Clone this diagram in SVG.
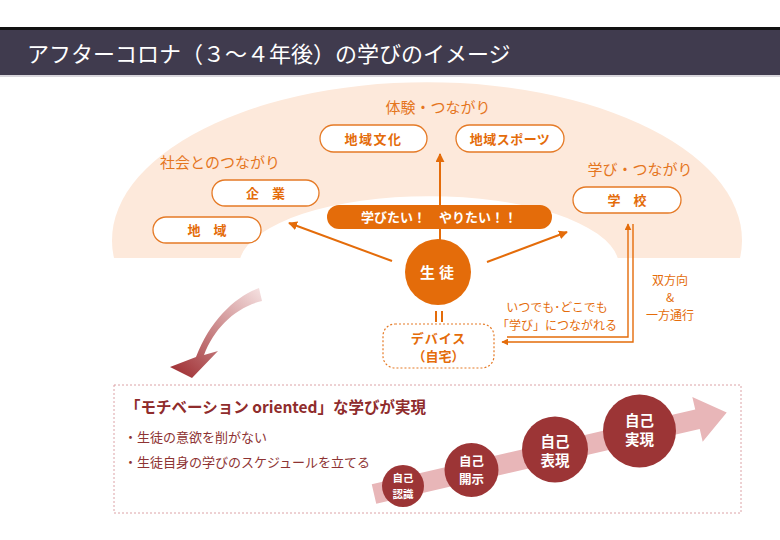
<svg xmlns="http://www.w3.org/2000/svg" width="780" height="540" viewBox="0 0 780 540">
<style>
.jp{font-family:"Noto Sans CJK JP","Noto Sans",sans-serif}
.lbl{font-size:15px;fill:#e5761e}
.pill rect{fill:#fff;stroke:#e57a26;stroke-width:1.3}
.pill text{font-size:13px;font-weight:bold;fill:#e46c0a;text-anchor:middle}
.or{fill:#e46c0a}
.con{stroke:#e46c0a;stroke-width:2;fill:none}
.dl{stroke:#e46c0a;stroke-width:1.4;fill:none}
.note{font-size:12px;fill:#e46c0a;text-anchor:middle}
.step circle{fill:#9c3536}
.step text{fill:#fff;font-weight:bold;text-anchor:middle}
.blt{font-size:13px;fill:#8e3333}
</style>
<defs>
<marker id="ah" viewBox="0 0 10 10" refX="9" refY="5" markerWidth="9" markerHeight="9" markerUnits="userSpaceOnUse" orient="auto">
<path d="M0,0 L10,5 L0,10 Z" fill="#e46c0a"/>
</marker>
<marker id="ahs" viewBox="0 0 10 10" refX="9" refY="5" markerWidth="7" markerHeight="7" markerUnits="userSpaceOnUse" orient="auto">
<path d="M0,0 L10,5 L0,10 Z" fill="#e46c0a"/>
</marker>
<linearGradient id="rg" x1="263" y1="290" x2="185" y2="378" gradientUnits="userSpaceOnUse">
<stop offset="0" stop-color="#f6e2e2"/>
<stop offset="1" stop-color="#a3363a"/>
</linearGradient>
</defs>
<rect width="780" height="540" fill="#fff"/>

<g id="title-bar">
<rect x="0" y="27" width="780" height="3" fill="#111"/>
<rect x="0" y="30" width="780" height="45" fill="#403b4e"/>
<rect x="0" y="75" width="780" height="2" fill="#d8d6dc"/>
<text class="jp" x="27" y="62" font-size="22" fill="#fff">アフターコロナ（３～４年後）の学びのイメージ</text>
</g>

<g id="fan">
<path d="M114,258 A315,158 0 1 1 740,258 Z" fill="#fde9db"/>
<path d="M240.3,258 A190,70 0 0 1 617.7,258 Z" fill="#fff"/>
</g>

<g id="connectors">
<line class="con" x1="440" y1="240" x2="440" y2="154" marker-end="url(#ah)"/>
<line class="con" x1="392" y1="261" x2="289" y2="223" marker-end="url(#ah)"/>
<line class="con" x1="487" y1="262" x2="567" y2="232" marker-end="url(#ah)"/>
<path class="dl" d="M507,337 H628 V224" marker-end="url(#ahs)"/>
<path class="dl" d="M633,224 V342 H502" marker-end="url(#ahs)"/>
<line x1="436" y1="311" x2="436" y2="322" stroke="#e46c0a" stroke-width="2"/>
<line x1="442" y1="311" x2="442" y2="322" stroke="#e46c0a" stroke-width="2"/>
</g>

<g id="label-taiken"><text class="jp lbl" x="438" y="113" text-anchor="middle">体験・つながり</text></g>
<g id="label-shakai"><text class="jp lbl" x="220" y="168" text-anchor="middle" font-size="16">社会とのつながり</text></g>
<g id="label-manabi"><text class="jp lbl" x="640" y="175" text-anchor="middle">学び・つながり</text></g>

<g id="chiiki-bunka" class="pill"><rect x="320" y="125" width="107" height="27" rx="13.5"/><text class="jp" x="373.5" y="143.5" letter-spacing="1.5">地域文化</text></g>
<g id="chiiki-sports" class="pill"><rect x="456" y="125" width="108" height="27" rx="13.5"/><text class="jp" x="510" y="143.5" letter-spacing="0.5">地域スポーツ</text></g>
<g id="kigyo" class="pill"><rect x="212" y="180" width="107" height="26" rx="13"/><text class="jp" x="265.5" y="198">企　業</text></g>
<g id="chiiki" class="pill"><rect x="153" y="217" width="108" height="26" rx="13"/><text class="jp" x="207" y="235">地　域</text></g>
<g id="gakko" class="pill"><rect x="573" y="187" width="108" height="26" rx="13"/><text class="jp" x="627" y="205">学　校</text></g>

<g id="want-bar">
<rect x="327" y="205" width="225" height="24" rx="12" class="or"/>
<text class="jp" x="439" y="222" font-size="13" font-weight="bold" fill="#fff" text-anchor="middle">学びたい！　やりたい！！</text>
</g>

<g id="seito">
<circle cx="438" cy="272" r="33" class="or"/>
<text class="jp" x="439" y="278" font-size="15" font-weight="bold" fill="#fff" text-anchor="middle" letter-spacing="4">生徒</text>
</g>

<g id="device">
<rect x="383" y="324" width="111" height="44" rx="12" fill="#fff" stroke="#e57a26" stroke-width="1.2" stroke-dasharray="2,2"/>
<text class="jp" x="438.5" y="343" font-size="13" font-weight="bold" fill="#e46c0a" text-anchor="middle" letter-spacing="1">デバイス</text>
<text class="jp" x="438.5" y="361" font-size="13" font-weight="bold" fill="#e46c0a" text-anchor="middle">（自宅）</text>
</g>

<g id="note-anytime">
<text class="jp note" x="557" y="312">いつでも･どこでも</text>
<text class="jp note" x="557" y="330">「学び」につながれる</text>
</g>

<g id="note-bidir">
<text class="jp note" x="670" y="285" font-size="13">双方向</text>
<text class="jp note" x="670" y="302" font-size="13">&amp;</text>
<text class="jp note" x="670" y="320" font-size="13">一方通行</text>
</g>

<g id="curved-arrow">
<path d="M259,288 C236,296 210,320 196,357 L170,367 L192,378 L218,351 L204,355 C214,328 236,307 262,301 Z" fill="url(#rg)"/>
</g>

<g id="motivation-box">
<rect x="114" y="385" width="627" height="128" fill="#fff" stroke="#dca2a6" stroke-width="1" stroke-dasharray="2,2"/>
<text class="jp" x="125" y="413" font-size="15.5" font-weight="bold" fill="#8f2c2c">「モチベーション oriented」な学びが実現</text>
<text class="jp blt" x="124" y="442">・生徒の意欲を削がない</text>
<text class="jp blt" x="124" y="467">・生徒自身の学びのスケジュールを立てる</text>
</g>

<g id="growth-arrow">
<polygon points="0,-10 332,-10 332,-23 362,0 332,23 332,10 0,10" fill="#e8b6b8" transform="translate(374,494) rotate(-13)"/>
</g>

<g id="step1" class="step"><circle cx="403" cy="486" r="21"/><text class="jp" x="403" y="482" font-size="10.5">自己</text><text class="jp" x="403" y="498" font-size="10.5">認識</text></g>
<g id="step2" class="step"><circle cx="471.5" cy="470" r="27"/><text class="jp" x="471.5" y="466" font-size="12.5">自己</text><text class="jp" x="471.5" y="484" font-size="12.5">開示</text></g>
<g id="step3" class="step"><circle cx="555" cy="449.5" r="33"/><text class="jp" x="555" y="447" font-size="14.5">自己</text><text class="jp" x="555" y="466" font-size="14.5">表現</text></g>
<g id="step4" class="step"><circle cx="639.5" cy="431" r="36.5"/><text class="jp" x="639.5" y="426" font-size="14.5">自己</text><text class="jp" x="639.5" y="445" font-size="14.5">実現</text></g>
</svg>
